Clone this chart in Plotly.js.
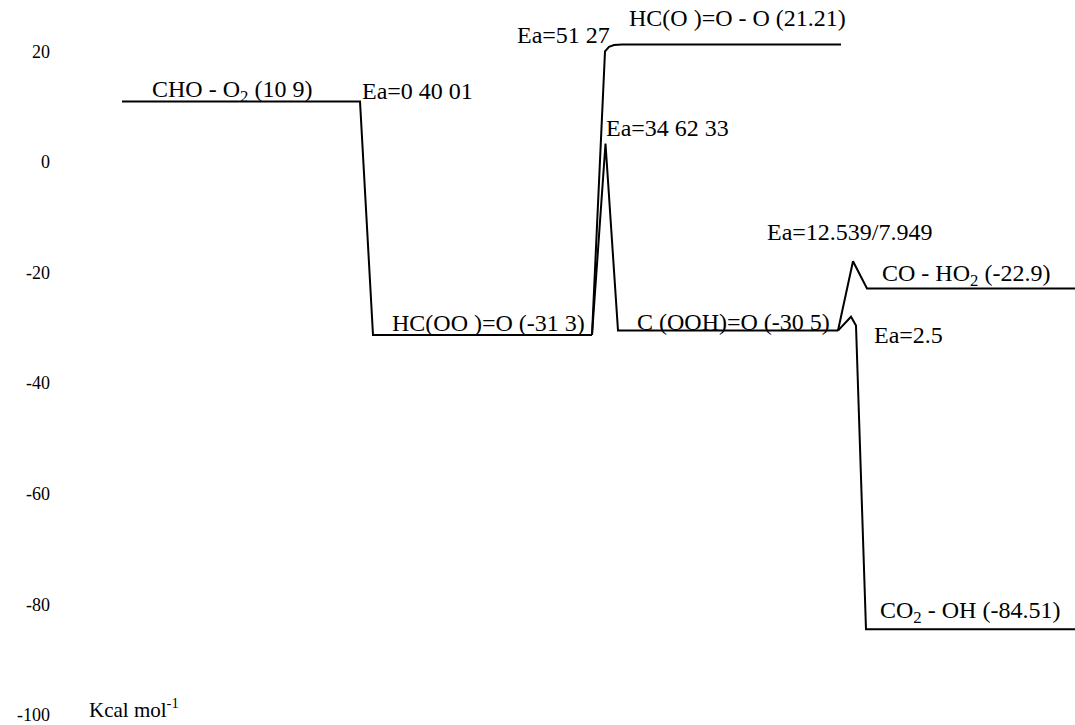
<!DOCTYPE html>
<html>
<head>
<meta charset="utf-8">
<script src="https://cdn.plot.ly/plotly-3.0.1.min.js"></script>
<style>html,body{margin:0;padding:0;background:#fff;}#chart{width:1075px;height:725px;}</style>
</head>
<body>
<div id="chart"></div>
<script>
// Energy levels (kcal/mol)
const yTicks = [20, 0, -20, -40, -60, -80, -100];
const yTickLabels = ["20", "0", "-20", "-40", "-60", "-80", "-100"];

// Reaction coordinate (arbitrary units) and energies for each drawn path
const coordEntry = [122, 360, 373, 592];
const energyEntry = [10.9, 10.9, -31.3, -31.3];

const coordHCOOO = [592, 605, 609, 614, 622, 841];
const energyHCOOO = [-31.3, 19.97, 20.8, 21.1, 21.21, 21.21];

const coordTS1 = [592, 605.5, 618, 838];
const energyTS1 = [-31.3, 3.32, -30.5, -30.5];

const coordCOHO2 = [838, 853, 867, 1075];
const energyCOHO2 = [-30.5, -17.96, -22.9, -22.9];

const coordCO2OH = [838, 851, 856, 866, 1075];
const energyCO2OH = [-30.5, -28.0, -29.6, -84.51, -84.51];

// Labels
const labelTexts = [
  "CHO - O<sub>2</sub> (10 9)",
  "Ea=0 40 01",
  "Ea=51 27",
  "HC(O )=O - O (21.21)",
  "Ea=34 62 33",
  "HC(OO )=O (-31 3)",
  "C (OOH)=O (-30 5)",
  "Ea=12.539/7.949",
  "CO - HO<sub>2</sub> (-22.9)",
  "Ea=2.5",
  "CO<sub>2</sub> - OH (-84.51)",
  "Kcal mol<sup>-1</sup>"
];
const labelX = [150, 360, 515, 627, 604, 390, 635, 765, 880, 872, 878, 87];
const labelY = [12.8, 12.8, 22.9, 26.0, 6.1, -29.1, -29.0, -12.7, -20.5, -31.3, -81.4, -98.9];

const lineStyle = {color: "#000", width: 2};
function path(x, y) {
  return {x: x, y: y, type: "scatter", mode: "lines", line: lineStyle, hoverinfo: "skip", showlegend: false};
}
const data = [
  path(coordEntry, energyEntry),
  path(coordHCOOO, energyHCOOO),
  path(coordTS1, energyTS1),
  path(coordCOHO2, energyCOHO2),
  path(coordCO2OH, energyCO2OH)
];

const serif = "Liberation Serif, Times New Roman, serif";
const annotations = labelTexts.map((t, i) => ({
  text: t, x: labelX[i], y: labelY[i], xref: "x", yref: "y",
  xanchor: "left", yanchor: "middle", showarrow: false,
  font: {family: serif, size: i === 11 ? 21 : 24, color: "#000"}
}));

const layout = {
  width: 1075, height: 725,
  margin: {l: 51, r: 0, t: 18, b: 0},
  paper_bgcolor: "#fff", plot_bgcolor: "#fff",
  xaxis: {range: [51, 1075], showgrid: false, zeroline: false, showline: false, showticklabels: false, ticks: ""},
  yaxis: {range: [-101.8, 26], tickvals: yTicks, ticktext: yTickLabels, showgrid: false, zeroline: false,
          showline: false, ticks: "", ticklabeloverflow: "allow",
          tickfont: {family: serif, size: 18, color: "#000"}},
  annotations: annotations
};

Plotly.newPlot("chart", data, layout, {staticPlot: true, displayModeBar: false});
</script>
</body>
</html>
